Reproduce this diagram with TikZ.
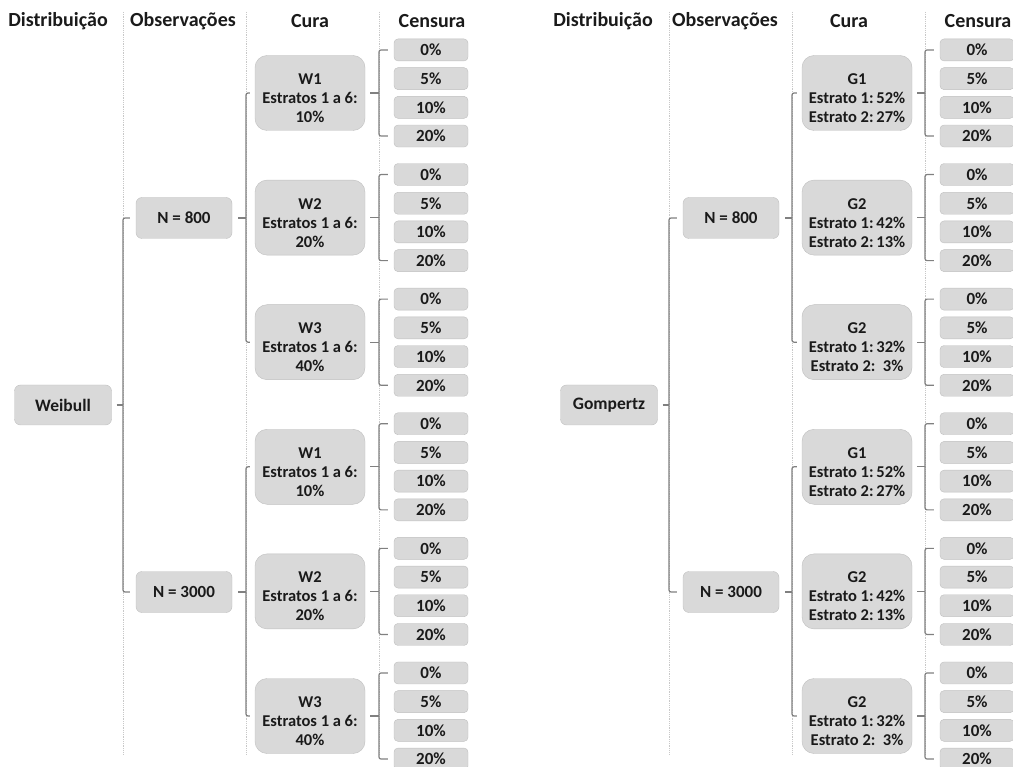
\documentclass[tikz,border=0pt]{standalone}
\usepackage{fontspec}
\setmainfont{Carlito}
\usetikzlibrary{positioning, calc}

\definecolor{boxfill}{HTML}{D9D9D9}
\definecolor{boxline}{HTML}{BFBFBF}
\definecolor{linegray}{HTML}{808080}
\definecolor{sepgray}{HTML}{C8C8C8}
\definecolor{textgray}{HTML}{1A1A1A}

% pushes the text of a cure box a little down
\newcommand{\curadrop}{\rule{0pt}{21pt}}

\begin{document}
\frenchspacing
\begin{tikzpicture}[
  x=1pt, y=-1pt,
  head/.style={text=textgray, font=\fontsize{20}{22}\selectfont\bfseries},
  box/.style={draw=boxline, fill=boxfill, align=center, inner sep=0pt, text=textgray,
              font=\fontsize{16.5}{19}\selectfont\bfseries},
  distbox/.style={box, rounded corners=6pt, minimum width=97pt, minimum height=40pt,
                  font=\fontsize{17.5}{19}\selectfont\bfseries},
  obsbox/.style={box, rounded corners=6pt, minimum width=96pt, minimum height=41pt,
                 font=\fontsize{17}{19}\selectfont\bfseries},
  curabox/.style={box, rounded corners=12pt, minimum width=110pt, minimum height=75pt},
  censbox/.style={box, rounded corners=4pt, minimum width=74pt, minimum height=22pt,
                  font=\fontsize{17}{19}\selectfont\bfseries},
  sep/.style={draw=sepgray, densely dotted, line width=0.8pt},
  conn/.style={draw=linegray, line width=1.2pt, rounded corners=2pt}
]
\useasboundingbox (0,0) rectangle (1013,767);

% Column separators
\foreach \sx [count=\i] in {123,246,379,669,792,925} {
  \coordinate (s\i) at (\sx,0);
  \draw[sep] (\sx,12) -- (\sx,755);
}

% Headers
\node[head] (hdistW) at (58,21) {Distribuição};
\node[head] (hobsW) at (183,21) {Observações};
\node[head] (hcuraW) at (310,21) {Cura};
\node[head] (hcensW) at (432,21) {Censura};
\node[head] (hdistG) at (603,21) {Distribuição};
\node[head] (hobsG) at (725,21) {Observações};
\node[head] (hcuraG) at (849,21) {Cura};
\node[head] (hcensG) at (978,21) {Censura};

% Distribution
\node[distbox] (weib) at (63,405) {Weibull};
\node[distbox] (gomp) at (609,405) {Gompertz};

% Observations
\node[obsbox] (w800) at (184,218) {N = 800};
\node[obsbox] (w3000) at (184,592) {N = 3000};
\node[obsbox] (g800) at (731,218) {N = 800};
\node[obsbox] (g3000) at (731,592) {N = 3000};

% Cure, Weibull
\foreach \txt [count=\i] in {{W1\\Estratos 1 a 6:\\10\%}, {W2\\Estratos 1 a 6:\\20\%},
    {W3\\Estratos 1 a 6:\\40\%}, {W1\\Estratos 1 a 6:\\10\%},
    {W2\\Estratos 1 a 6:\\20\%}, {W3\\Estratos 1 a 6:\\40\%}}
  \node[curabox] (wc\i) at (310,{93+124.6*(\i-1)}) {\curadrop\txt};

% Cure, Gompertz
\foreach \txt [count=\i] in {{G1\\Estrato 1:\,52\%\\Estrato 2:\,27\%},
    {G2\\Estrato 1:\,42\%\\Estrato 2:\,13\%}, {G2\\Estrato 1:\,32\%\\Estrato 2:\ \ 3\%},
    {G1\\Estrato 1:\,52\%\\Estrato 2:\,27\%}, {G2\\Estrato 1:\,42\%\\Estrato 2:\,13\%},
    {G2\\Estrato 1:\,32\%\\Estrato 2:\ \ 3\%}}
  \node[curabox] (gc\i) at (857,{93+124.6*(\i-1)}) {\curadrop\txt};

% Censoring levels and their brackets
\foreach \p/\cx/\sx in {wc/431/s3, gc/977/s6} {
  \foreach \i in {1,...,6} {
    \foreach \lv [count=\j] in {0,5,10,20}
      \node[censbox] (\p\i-\j) at (\cx,{93+124.6*(\i-1)+28.7*(\j-2.5)}) {\lv\%};
    \draw[conn] ([xshift=5]\p\i.east) -- (\p\i.east -| \sx);
    \draw[conn] ([xshift=-6]\p\i-1.west) -- (\p\i-1.west -| \sx)
      -- (\p\i-4.west -| \sx) -- ([xshift=-6]\p\i-4.west);
  }
}

% Observations to cure
\foreach \n/\a/\b/\sx in {w800/wc1/wc3/s2, w3000/wc4/wc6/s2, g800/gc1/gc3/s5, g3000/gc4/gc6/s5} {
  \draw[conn] ([xshift=6]\n.east) -- (\n.east -| \sx);
  \draw[conn] ([xshift=-5]\a.west) -- (\a.west -| \sx)
    -- (\b.west -| \sx) -- ([xshift=-5]\b.west);
}

% Distribution to observations
\foreach \d/\a/\b/\sx in {weib/w800/w3000/s1, gomp/g800/g3000/s4} {
  \draw[conn] ([xshift=5]\d.east) -- (\d.east -| \sx);
  \draw[conn] ([xshift=-6]\a.west) -- (\a.west -| \sx)
    -- (\b.west -| \sx) -- ([xshift=-6]\b.west);
}

\end{tikzpicture}
\end{document}
